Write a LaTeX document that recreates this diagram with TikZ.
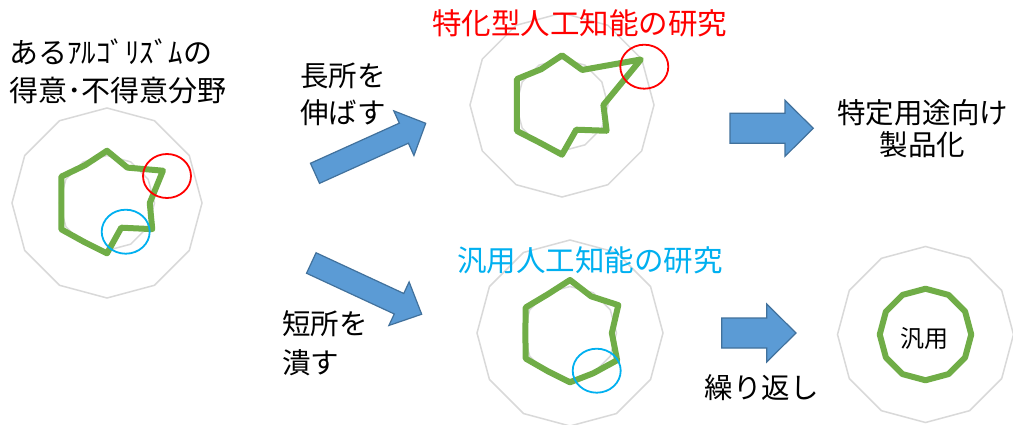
\documentclass[tikz,border=0pt]{standalone}
\usepackage{fontspec}
\setmainfont{Noto Sans CJK JP}
\definecolor{ringgray}{HTML}{D9D9D9}
\definecolor{radargreen}{HTML}{70AD47}
\definecolor{markred}{HTML}{FF0000}
\definecolor{markcyan}{HTML}{00B0F0}
\definecolor{arrowfill}{HTML}{5B9BD5}
\definecolor{arrowedge}{HTML}{41719C}
\newcommand\ringshape[3]{% cx cy R
  \draw[ringline] plot[samples at={0,30,...,330}] ({#1+#3*cos(\x+90)},{#2-#3*sin(\x+90)}) -- cycle;}
\newcommand\radarshape[5]{% name cx cy R values
  \foreach \val [count=\i] in {#5}
    \coordinate (#1-\i) at ({#2+#4*\val*cos(120-30*\i)},{#3-#4*\val*sin(120-30*\i)});
  \draw[greenline] (#1-1) \foreach \i in {2,...,12}{-- (#1-\i)} -- cycle;}
\begin{document}
\begin{tikzpicture}[x=1pt,y=-1pt,
  ringline/.style={draw=ringgray,line width=1.5pt},
  greenline/.style={draw=radargreen,line width=6pt,line join=round},
  markcircle/.style={line width=1.8pt,x radius=24,y radius=22},
  arrowbody/.style={fill=arrowfill,draw=arrowedge,line width=1.2pt,line join=miter},
  pics/blockarrow/.style args={#1/#2/#3/#4}{code={%
    \draw[arrowbody] (0,-#3) -- ({#1-#2},-#3) -- ({#1-#2},-#4) -- (#1,0)
      -- ({#1-#2},#4) -- ({#1-#2},#3) -- (0,#3) -- cycle;}},
  lbl/.style={inner sep=0pt,font=\fontsize{28.5}{34}\selectfont},
]
\clip (0,0) rectangle (1013,424);
\fill[white] (0,0) rectangle (1013,424);

% chart 1
\ringshape{107}{203}{95}
\ringshape{107}{203}{47.5}
\radarshape{g1}{107}{203}{95}{0.55,0.43,0.68,0.45,0.55,0.30,0.53,0.475,0.555,0.48,0.555,0.46}
\draw[markred,markcircle] (167,176) ellipse [];
\draw[markcyan,markcircle] (125.7,231.7) ellipse [];

% chart 2
\ringshape{562}{105}{92}
\ringshape{562}{105}{46}
\radarshape{g2}{562}{105}{92}{0.54,0.44,0.99,0.45,0.56,0.31,0.54,0.475,0.565,0.49,0.565,0.45}
\draw[markred,markcircle] (644.3,66.7) ellipse [];

% chart 3
\ringshape{570}{333}{93}
\ringshape{570}{333}{46.5}
\radarshape{g3}{570}{333}{93}{0.57,0.455,0.60,0.45,0.585,0.50,0.53,0.475,0.55,0.48,0.55,0.48}
\draw[markcyan,markcircle] (596.7,370.7) ellipse [];

% chart 4
\ringshape{925.5}{334.5}{88}
\ringshape{925.5}{334.5}{44}
\radarshape{g4}{925.5}{334.5}{88}{0.52,0.52,0.52,0.52,0.52,0.52,0.52,0.52,0.52,0.52,0.52,0.52}

% block arrows
\pic[rotate=24.3] (a1) at (315,173.3) {blockarrow=121.5/24/11/24.5};
\pic[rotate=-24.9] (a2) at (311.3,263) {blockarrow=121.7/25/11.3/24};
\pic (a3) at (730,128.3) {blockarrow=83.3/28.3/15/28};
\pic (a4) at (721.7,333) {blockarrow=74.3/29.3/15/29};

% texts
\node[lbl,anchor=base west,font=\fontsize{29}{34}\selectfont] (t1a) at (9,63) {あるｱﾙｺﾞﾘｽﾞﾑの};
\node[lbl,anchor=base west,font=\fontsize{29}{34}\selectfont] (t1b) at (9,101) {得意･不得意分野};
\node[lbl,anchor=base west] (t2a) at (300,86) {長所を};
\node[lbl,anchor=base west] (t2b) at (300,123) {伸ばす};
\node[lbl,anchor=base west] (t3a) at (282,334) {短所を};
\node[lbl,anchor=base west] (t3b) at (282,373) {潰す};
\node[lbl,anchor=base,text=markred,font=\fontsize{29.5}{34}\selectfont] (h1) at (579.7,34.5) {特化型人工知能の研究};
\node[lbl,anchor=base,text=markcyan,font=\fontsize{29.5}{34}\selectfont] (h2) at (590,271) {汎用人工知能の研究};
\node[lbl,anchor=base] (r1a) at (922.5,123) {特定用途向け};
\node[lbl,anchor=base] (r1b) at (922.5,155) {製品化};
\node[lbl,anchor=base] (r2) at (761.7,398) {繰り返し};
\node[lbl,anchor=base,font=\fontsize{24}{28}\selectfont] (gen) at (924.5,347) {汎用};
\end{tikzpicture}
\end{document}
